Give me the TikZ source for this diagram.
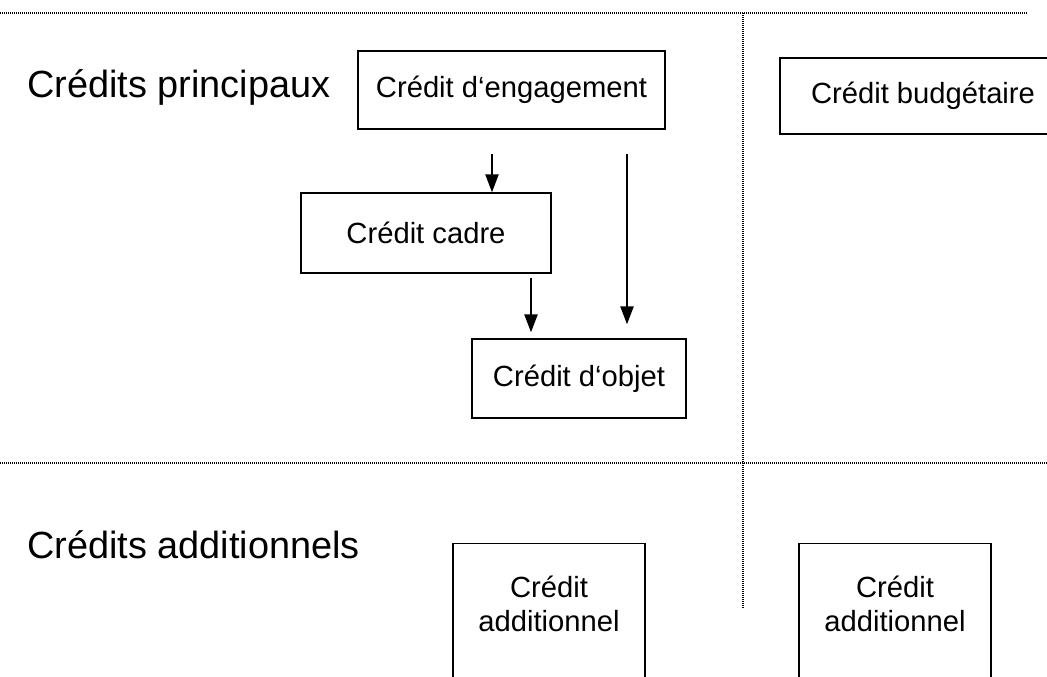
\documentclass[tikz,border=0pt]{standalone}
\usepackage{fontspec}
\setmainfont{Liberation Sans}
\usetikzlibrary{calc,arrows.meta}
\begin{document}
\begin{tikzpicture}[x=0.75pt,y=-0.75pt,
 box/.style={draw,line width=1.1pt,inner sep=0pt,font=\fontsize{21.9}{26}\selectfont},
 boxtext/.style={inner sep=0pt,anchor=north,align=center,font=\fontsize{21.9}{25.5}\selectfont},
 title/.style={inner sep=0pt,anchor=base west,font=\fontsize{28.4}{34}\selectfont},
 sep/.style={line width=0.8pt,dash pattern=on 0.75pt off 0.75pt},
 arr/.style={line width=1.1pt,-{Triangle[length=13.5pt,width=10pt]}}]
\useasboundingbox (0,0) rectangle (1047,676);
\clip (0,0) rectangle (1047,676);
% separators
\coordinate (t0) at (0,13);
\coordinate (t1) at (1028,13);
\coordinate (v0) at (743,13);
\coordinate (v1) at (743,608);
\coordinate (m0) at (0,463);
\coordinate (m1) at (1047,463);
\draw[sep] (t0) -- (t1);
\draw[sep] (v0) -- (v1);
\draw[sep] (m0) -- (m1);
% titles
\node[title] (tp) at (27,97) {Crédits principaux};
\node[title] (ta) at (27,558) {Crédits additionnels};
% boxes
\node[box,minimum width=230.25pt,minimum height=58.5pt] (eng) at (511.5,90) {Crédit d‘engagement};
\node[box,minimum width=214.5pt,minimum height=57pt] (bud) at (923,96) {Crédit budgétaire};
\node[box,minimum width=187.5pt,minimum height=60pt] (cad) at (426,233) {Crédit cadre};
\node[box,minimum width=160.5pt,minimum height=59.25pt] (obj) at (579,378.5) {Crédit d‘objet};
\node[box,anchor=north,minimum width=144pt,minimum height=135pt] (a1) at (549,543) {};
\node[box,anchor=north,minimum width=144pt,minimum height=135pt] (a2) at (895,543) {};
\node[boxtext] (a1t) at ($(a1.north)+(0,33)$) {Crédit\\additionnel};
\node[boxtext] (a2t) at ($(a2.north)+(0,33)$) {Crédit\\additionnel};
% arrows
\draw[arr] ($(eng.south)+(-19.5,24)$) -- ($(cad.north)+(66,0)$);
\draw[arr] ($(eng.south)+(115.5,24)$) -- ($(obj.north)+(48,-14)$);
\draw[arr] ($(cad.south)+(105,4)$) -- ($(obj.north)+(-48,-6)$);
\end{tikzpicture}
\end{document}
